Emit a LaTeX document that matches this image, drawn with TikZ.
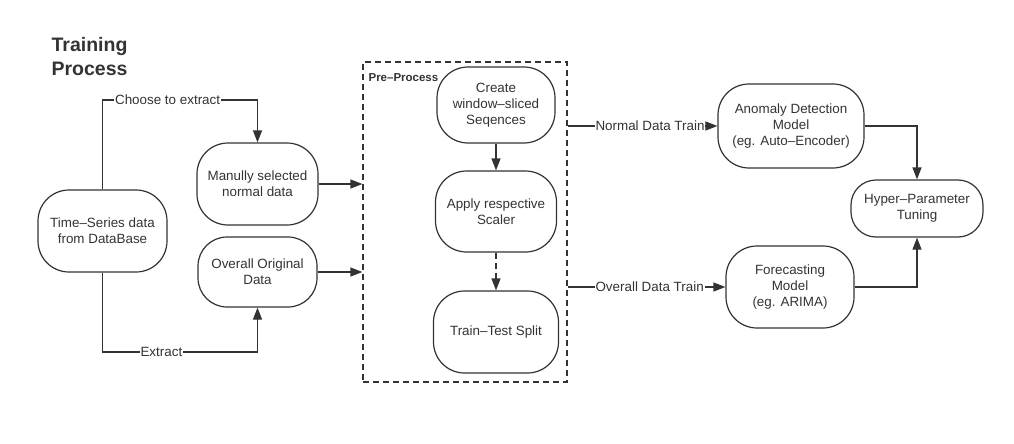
\documentclass[tikz,border=0pt]{standalone}
\usepackage{fontspec}
\setmainfont{Liberation Sans}
\usepackage{tikz}
\usetikzlibrary{arrows, arrows.meta}

\begin{document}
\begin{tikzpicture}[x=1pt, y=-1pt, >={Triangle[length=12pt,width=9pt]},
  line width=1.2pt, color=black!80,
  box/.style={draw, rounded corners=31pt, align=center, inner sep=2pt,
    font=\fontsize{13.4}{16}\selectfont},
  lbl/.style={fill=white, inner sep=1pt, font=\fontsize{13.4}{16}\selectfont}]

  \useasboundingbox (0,0) rectangle (1014,444);

  \node [anchor=north west, inner sep=0, align=left,
    font=\fontsize{19.5}{24}\selectfont\bfseries] (title) at (51,37) {Training\\Process};

  \node [box, minimum width=129pt, minimum height=82pt] (TS) at (102.5,231) {Time--Series data\\from DataBase};
  \node [box, minimum width=121pt, minimum height=82pt] (MS) at (257.5,184) {Manully selected\\normal data};
  \node [box, rounded corners=29pt, minimum width=119pt, minimum height=70pt] (OO) at (257.5,272) {Overall Original\\Data};

  \node [draw, dash pattern=on 6pt off 4pt, minimum width=204pt, minimum height=320pt] (PP) at (465,222) {};
  \node [anchor=west, inner sep=0, font=\fontsize{11.5}{14}\selectfont\bfseries] (PPL) at (368,78) {Pre--Process};

  \node [box, minimum width=118pt, minimum height=76pt] (CW) at (496,105) {Create\\window--sliced\\Seqences};
  \node [box, minimum width=121pt, minimum height=81pt] (AS) at (496,211.5) {Apply respective\\Scaler};
  \node [box, minimum width=125pt, minimum height=82pt] (TT) at (496,332) {Train--Test Split};

  \node [box, minimum width=146pt, minimum height=84pt] (AD) at (791,126) {Anomaly Detection\\Model\\(eg. Auto--Encoder)};
  \node [box, minimum width=128pt, minimum height=82pt] (FM) at (790,287) {Forecasting\\Model\\(eg. ARIMA)};
  \node [box, rounded corners=25pt, minimum width=132pt, minimum height=57pt] (HP) at (917,208.5) {Hyper--Parameter\\Tuning};

  \coordinate (cA) at (257.5,100);
  \coordinate (cB) at (257.5,352);

  \draw [->] (TS.north) |- node[lbl, pos=.71] {Choose to extract} (cA) -- (MS.north);
  \draw [->] (TS.south) |- node[lbl, pos=.69] {Extract} (cB) -- (OO.south);
  \draw [->] (MS) -- (MS -| PP.west);
  \draw [->] (OO) -- (OO -| PP.west);

  \draw [->] (CW) -- (AS);
  \draw [->, dash pattern=on 6pt off 4pt] (AS) -- (TT);

  \draw [->] (PP.east |- AD) -- node[lbl, pos=.55] {Normal Data Train} (AD);
  \draw [->] (PP.east |- FM) -- node[lbl, pos=.52] {Overall Data Train} (FM);
  \draw [->] (AD) -| (HP);
  \draw [->] (FM) -| (HP);

\end{tikzpicture}
\end{document}
